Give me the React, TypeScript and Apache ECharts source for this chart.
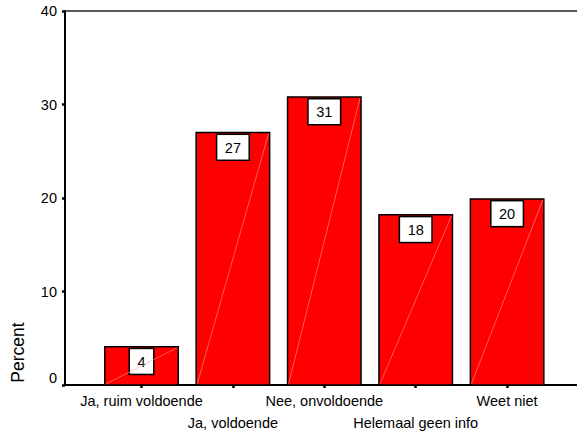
import React, { useEffect, useRef } from 'react';
import * as echarts from 'echarts';

const categories = ['Ja, ruim voldoende', 'Ja, voldoende', 'Nee, onvoldoende', 'Helemaal geen info', 'Weet niet'];
const percents = [4.1, 27.0, 30.8, 18.2, 19.9];
const yAxisName = 'Percent';

export default function App() {
  const ref = useRef<HTMLDivElement>(null);
  useEffect(() => {
    document.body.style.margin = '0';
    const chart = echarts.init(ref.current!, null, { renderer: 'svg' });
    const font = '"Liberation Sans", Arial, sans-serif';
    const data = percents.map((v, i) => [categories[i], v]);
    chart.setOption({
      animation: false,
      grid: [
        { left: 65, top: 11, right: 0, bottom: 48, outerBoundsMode: 'none', containLabel: false },
        { left: 95.8, top: 11, width: 457, bottom: 48, outerBoundsMode: 'none', containLabel: false },
      ],
      xAxis: [
        {
          gridIndex: 0, type: 'value', min: 0, max: 1, position: 'bottom',
          splitLine: { show: false },
          axisLine: { show: true, onZero: false, lineStyle: { color: '#000', width: 2 } },
          axisTick: { show: false },
          axisLabel: { show: false },
        },
        {
          gridIndex: 0, type: 'value', min: 0, max: 1, position: 'top',
          splitLine: { show: false },
          axisLine: { show: true, onZero: false, lineStyle: { color: '#222', width: 1.5 } },
          axisTick: { show: false },
          axisLabel: { show: false },
        },
        {
          gridIndex: 1, type: 'category', data: categories, position: 'bottom', boundaryGap: true,
          axisLine: { show: false },
          axisTick: { show: true, alignWithLabel: true, interval: 0, length: 3, lineStyle: { color: '#000', width: 2.5 } },
          axisLabel: {
            interval: 0,
            formatter: (v: string, i: number) => (i % 2 === 1 ? '\n' : '') + v,
            color: '#000', fontFamily: font, fontSize: 14.5, lineHeight: 22.5, margin: 4.5,
          },
        },
      ],
      yAxis: [
        {
          gridIndex: 0, type: 'value', min: 0, max: 40, interval: 10,
          splitLine: { show: false },
          axisLine: { show: true, onZero: false, lineStyle: { color: '#000', width: 2 } },
          axisTick: { show: true, length: 3, lineStyle: { color: '#000', width: 2.5 } },
          axisLabel: {
            color: '#000', fontFamily: font, fontSize: 14.5, margin: 8,
            formatter: (v: number) => (v === 0 ? '{z|0}' : String(v)),
            rich: { z: { color: '#000', fontFamily: font, fontSize: 14.5, padding: [0, 0, 14, 0] } },
          },
        },
        {
          gridIndex: 1, type: 'value', min: 0, max: 40, interval: 10, show: false,
        },
      ],
      graphic: [
        {
          type: 'text', x: 17.5, y: 352.5, rotation: Math.PI / 2,
          style: { text: yAxisName, align: 'center', verticalAlign: 'middle', fontSize: 17.5, fontFamily: font, fill: '#000' },
        },
      ],
      series: [
        {
          type: 'custom',
          xAxisIndex: 2,
          yAxisIndex: 1,
          data,
          encode: { x: 0, y: 1 },
          clip: false,
          renderItem: (params: any, api: any) => {
            const idx = params.dataIndex;
            const y = api.value(1);
            const top = api.coord([idx, y]);
            const base = api.coord([idx, 0]);
            const w = api.size([1, 0])[0] * 0.804;
            const x0 = top[0] - w / 2;
            const h = base[1] - top[1];
            return {
              type: 'group',
              children: [
                { type: 'rect', shape: { x: x0, y: top[1], width: w, height: h }, style: { fill: '#ff0000', stroke: '#000', lineWidth: 1.5 } },
                {
                  type: 'text', x: top[0], y: top[1] + 2.5,
                  style: {
                    text: String(Math.round(y)), fontSize: 14.5, fontFamily: font, fill: '#000',
                    align: 'center', verticalAlign: 'top', lineHeight: 16,
                    backgroundColor: '#fff', borderColor: '#000', borderWidth: 1.5, padding: [4.5, 7.5, 4, 7.5],
                  },
                },
                { type: 'line', shape: { x1: x0 + 1, y1: base[1] - 1, x2: x0 + w - 1, y2: top[1] + 1 }, style: { stroke: '#ff9a9a', lineWidth: 0.6 } },
              ],
            };
          },
        },
      ],
    });
    return () => chart.dispose();
  }, []);
  return <div ref={ref} style={{ width: 577, height: 433 }} />;
}
